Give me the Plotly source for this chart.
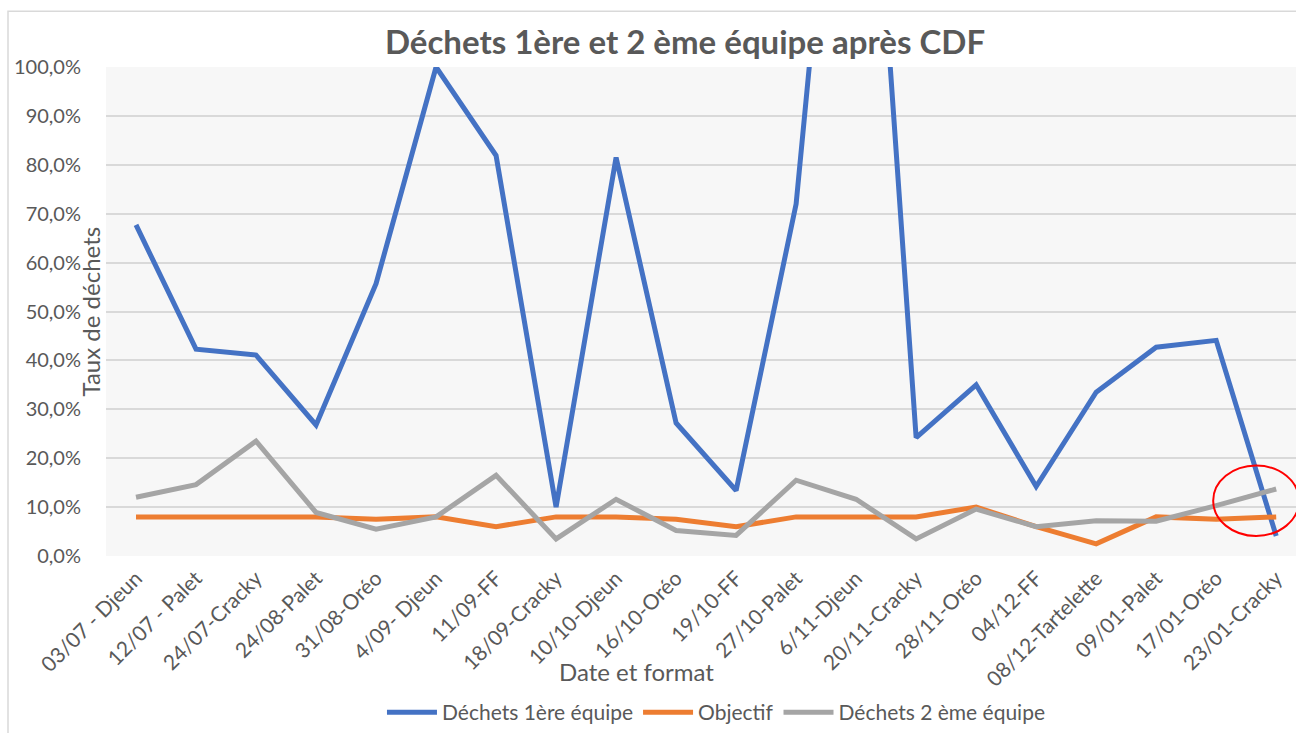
import plotly.graph_objects as go

categories = ["03/07 - Djeun", "12/07 - Palet", "24/07-Cracky", "24/08-Palet", "31/08-Oréo",
              "4/09- Djeun", "11/09-FF", "18/09-Cracky", "10/10-Djeun", "16/10-Oréo",
              "19/10-FF", "27/10-Palet", "6/11-Djeun", "20/11-Cracky", "28/11-Oréo",
              "04/12-FF", "08/12-Tartelette", "09/01-Palet", "17/01-Oréo", "23/01-Cracky"]

dechets_1 = [0.677, 0.423, 0.411, 0.268, 0.557, 1.000, 0.819, 0.100, 0.815, 0.272,
             0.134, 0.720, 2.000, 0.242, 0.350, 0.142, 0.335, 0.427, 0.441, 0.041]
objectif = [0.08, 0.08, 0.08, 0.08, 0.075, 0.08, 0.06, 0.08, 0.08, 0.075,
            0.06, 0.08, 0.08, 0.08, 0.10, 0.06, 0.025, 0.08, 0.075, 0.08]
dechets_2 = [0.120, 0.146, 0.235, 0.089, 0.055, 0.080, 0.165, 0.035, 0.116, 0.052,
             0.042, 0.155, 0.116, 0.035, 0.096, 0.060, 0.072, 0.071, 0.103, 0.137]

series_names = ["Déchets 1ère équipe", "Objectif", "Déchets 2 ème équipe"]
series_colors = ["#4472C4", "#ED7D31", "#A5A5A5"]

# highlight ellipse (category index / value units)
circle_x = [17.95, 19.38]
circle_y = [0.041, 0.185]

FONT = "Lato"
TXT = "#595959"

fig = go.Figure()
for name, vals, col in zip(series_names, [dechets_1, objectif, dechets_2], series_colors):
    fig.add_trace(go.Scatter(x=categories, y=vals, name=name, mode="lines",
                             line=dict(color=col, width=5)))

fig.update_layout(
    width=1296, height=733,
    margin=dict(l=106, r=0, t=67, b=174),
    paper_bgcolor="white",
    plot_bgcolor="#F7F7F7",
    separators=", ",
    font=dict(family=FONT, color=TXT, size=20),
    title=dict(text="<b>Déchets 1ère et 2 ème équipe après CDF</b>",
               x=685 / 1296, xanchor="center", y=1 - 42 / 733, yanchor="middle",
               font=dict(size=33, color=TXT, family=FONT)),
    showlegend=True,
    legend=dict(orientation="h", x=0.513, xanchor="center", y=-0.321, yanchor="middle",
                font=dict(size=21, color=TXT), bgcolor="rgba(0,0,0,0)",
                itemwidth=50, tracegroupgap=0),
    xaxis=dict(type="category", range=[-0.5, 19.33], tickangle=-45,
               showgrid=False, zeroline=False, showline=False,
               tickfont=dict(size=21, color=TXT), ticklabelstandoff=5),
    yaxis=dict(range=[0, 1.0], dtick=0.1, tickformat=".1%",
               showgrid=True, gridcolor="#D9D9D9", gridwidth=1.5,
               zeroline=False, showline=False,
               tickfont=dict(size=20, color=TXT), ticklabelstandoff=24),
)

fig.add_annotation(text="Taux de déchets", textangle=-90, xref="paper", yref="paper",
                   x=0, xshift=-16, y=0.5, xanchor="center", yanchor="middle",
                   showarrow=False, font=dict(size=24, color=TXT))
fig.add_annotation(text="Date et format", xref="paper", yref="paper",
                   x=(636 - 106) / 1190, y=(559 - 675) / 492, xanchor="center", yanchor="middle",
                   showarrow=False, font=dict(size=24, color=TXT))

# outer chart border
fig.add_shape(type="rect", xref="paper", yref="paper",
              x0=(8 - 106) / 1190, x1=1.3, y0=-1.0, y1=(559 - 11) / 492,
              line=dict(color="#D9D9D9", width=1.5), layer="below")

fig.add_shape(type="circle", xref="x", yref="y",
              x0=circle_x[0], x1=circle_x[1], y0=circle_y[0], y1=circle_y[1],
              line=dict(color="red", width=2))

fig.write_html("out.html", config={"displayModeBar": False},
               post_script="document.body.style.margin='0';document.body.style.overflow='hidden';")
